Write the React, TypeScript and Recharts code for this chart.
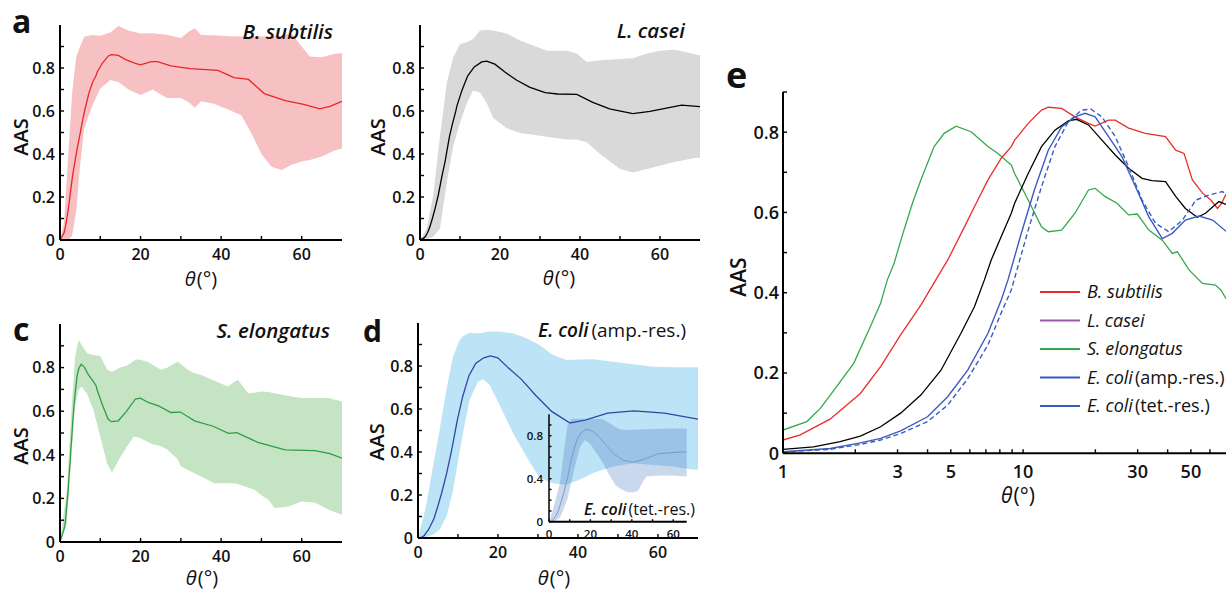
import React from 'react';
import { ComposedChart, Line, Area, XAxis, YAxis } from 'recharts';

const FONT = "'Open Sans', 'Noto Sans', 'DejaVu Sans', sans-serif";

// ---------------- data (theta in degrees, AAS values) ----------------
// B. subtilis
const bsTheta = [0, 1, 1.18, 1.57, 2.1, 2.55, 3.09, 3.75, 4.33, 4.85, 5.61, 6.27, 7.14, 8.11, 8.93, 9.22, 10.5, 11.93, 12.73, 14.47, 16.45, 18.72, 19.96, 22.7, 24.2, 27.5, 32.3, 39.2, 43.2, 46.8, 50.7, 55.9, 60.5, 64.5, 67, 70];
const bsMean = [0, 0.033, 0.046, 0.085, 0.149, 0.216, 0.295, 0.369, 0.432, 0.481, 0.556, 0.614, 0.681, 0.735, 0.764, 0.78, 0.822, 0.855, 0.862, 0.859, 0.838, 0.822, 0.815, 0.83, 0.83, 0.81, 0.797, 0.789, 0.755, 0.747, 0.681, 0.648, 0.631, 0.61, 0.622, 0.645];
const bsBandTheta = [0, 1, 2, 3, 4, 5, 6, 8, 10, 12.5, 14.5, 17, 20, 23, 26.5, 30, 32, 33.5, 35, 38, 42, 45, 47.5, 50, 52.5, 55, 57.5, 60, 62, 65, 68, 70];
const bsHigh = [0, 0.08, 0.38, 0.68, 0.85, 0.9, 0.945, 0.953, 0.95, 0.965, 0.995, 0.975, 0.96, 0.962, 0.955, 0.94, 0.97, 0.985, 0.953, 0.952, 0.948, 0.946, 0.946, 0.946, 0.946, 0.95, 0.96, 0.9, 0.853, 0.85, 0.865, 0.87];
const bsLow = [0, 0, 0, 0.02, 0.13, 0.35, 0.52, 0.625, 0.705, 0.744, 0.735, 0.7, 0.674, 0.7, 0.66, 0.66, 0.64, 0.615, 0.645, 0.635, 0.605, 0.58, 0.496, 0.4, 0.341, 0.326, 0.35, 0.365, 0.372, 0.388, 0.415, 0.426];

// L. casei
const lcTheta = [0, 1, 1.34, 1.73, 2.1, 2.55, 3.09, 3.75, 4.55, 5.51, 6.27, 6.9, 7.36, 8.11, 8.93, 9.22, 10.5, 11.93, 13.57, 15.43, 16.7, 18.72, 21.3, 24.2, 27.5, 31.3, 34.4, 39.2, 43.2, 47.4, 53.2, 57.5, 65.4, 70];
const lcMean = [0, 0.01, 0.016, 0.029, 0.043, 0.066, 0.1, 0.145, 0.207, 0.299, 0.365, 0.432, 0.481, 0.54, 0.598, 0.623, 0.697, 0.764, 0.805, 0.828, 0.832, 0.818, 0.78, 0.743, 0.71, 0.685, 0.679, 0.677, 0.64, 0.61, 0.588, 0.598, 0.627, 0.62];
const lcBandTheta = [0, 1.7, 3.3, 5, 6.7, 8.3, 10, 11.7, 13.3, 15, 16.7, 18.3, 21.7, 25, 28.3, 31.7, 36.7, 39.2, 41.7, 45, 50, 53.3, 56.7, 60, 63.3, 65, 68.3, 70];
const lcHigh = [0, 0.054, 0.207, 0.483, 0.73, 0.85, 0.91, 0.92, 0.935, 0.974, 0.978, 0.974, 0.96, 0.928, 0.905, 0.88, 0.88, 0.867, 0.828, 0.836, 0.842, 0.845, 0.867, 0.88, 0.885, 0.88, 0.865, 0.859];
const lcLow = [0, 0.005, 0.015, 0.054, 0.27, 0.437, 0.545, 0.636, 0.695, 0.686, 0.636, 0.567, 0.52, 0.498, 0.49, 0.48, 0.468, 0.468, 0.455, 0.4, 0.33, 0.314, 0.33, 0.345, 0.362, 0.368, 0.38, 0.383];

// S. elongatus
const seTheta = [0, 1, 1.257, 1.43, 1.574, 1.97, 2.31, 2.55, 2.72, 2.9, 3.19, 3.46, 3.75, 4.26, 4.69, 5.26, 6.07, 7.14, 7.86, 8.93, 9.22, 10.5, 11.93, 12.73, 14.47, 16.45, 18.72, 19.96, 21.9, 24.6, 27.5, 29.9, 33.4, 38, 41.8, 43.9, 49.1, 55.9, 63.3, 67, 70];
const seMean = [0, 0.058, 0.079, 0.112, 0.145, 0.224, 0.315, 0.374, 0.432, 0.473, 0.556, 0.623, 0.681, 0.764, 0.797, 0.815, 0.801, 0.764, 0.747, 0.718, 0.697, 0.631, 0.564, 0.552, 0.556, 0.598, 0.656, 0.66, 0.64, 0.623, 0.594, 0.596, 0.556, 0.531, 0.498, 0.502, 0.457, 0.423, 0.419, 0.405, 0.385];
const seBandTheta = [0, 1.7, 2.9, 3.75, 4.6, 5.4, 6.7, 8.3, 10, 11.7, 12.9, 15, 16.7, 18.3, 19.2, 20, 21.7, 23.3, 25, 26.7, 29.2, 30, 31.7, 33.3, 35, 38.3, 41.7, 43.3, 44.2, 46.7, 48.3, 50, 51.7, 53.3, 56.7, 60, 63.3, 65, 66.7, 70];
const seHigh = [0, 0.24, 0.62, 0.85, 0.927, 0.904, 0.866, 0.858, 0.853, 0.79, 0.78, 0.8, 0.81, 0.83, 0.838, 0.835, 0.827, 0.81, 0.79, 0.8, 0.827, 0.815, 0.79, 0.775, 0.766, 0.74, 0.713, 0.735, 0.743, 0.682, 0.685, 0.69, 0.688, 0.682, 0.67, 0.66, 0.66, 0.66, 0.66, 0.644];
const seLow = [0, 0.087, 0.42, 0.62, 0.7, 0.713, 0.68, 0.606, 0.484, 0.36, 0.319, 0.39, 0.44, 0.484, 0.48, 0.476, 0.46, 0.446, 0.44, 0.423, 0.38, 0.347, 0.33, 0.316, 0.3, 0.27, 0.27, 0.27, 0.265, 0.25, 0.24, 0.215, 0.194, 0.156, 0.163, 0.186, 0.18, 0.165, 0.148, 0.125];

// E. coli (amp.-res.)
const ecaTheta = [0, 1, 1.574, 2.1, 2.55, 3.09, 4, 4.85, 5.88, 7.14, 8.11, 8.65, 9.83, 11.14, 12.73, 14.47, 16.45, 18.1, 19.96, 22.7, 25.8, 29.4, 33.4, 38, 41.8, 47.4, 54, 61.6, 70];
const ecaMean = [0, 0.004, 0.012, 0.026, 0.037, 0.056, 0.091, 0.141, 0.207, 0.299, 0.382, 0.432, 0.548, 0.656, 0.755, 0.813, 0.838, 0.847, 0.838, 0.789, 0.739, 0.664, 0.589, 0.535, 0.548, 0.581, 0.591, 0.581, 0.553];
const ecaBandTheta = [0, 2, 3.75, 5.4, 7.1, 8.75, 10.4, 11.25, 12.9, 15, 16.25, 17.9, 20.4, 23.75, 27.1, 30.4, 33.75, 37.1, 40.4, 43.75, 48.75, 53.75, 58.75, 63.75, 68, 70];
const ecaHigh = [0, 0.147, 0.333, 0.503, 0.689, 0.844, 0.92, 0.94, 0.955, 0.952, 0.955, 0.96, 0.96, 0.952, 0.929, 0.898, 0.851, 0.828, 0.83, 0.831, 0.82, 0.808, 0.797, 0.794, 0.794, 0.794];
const ecaLow = [0, 0.005, 0.015, 0.04, 0.1, 0.22, 0.4, 0.488, 0.642, 0.728, 0.738, 0.712, 0.619, 0.488, 0.379, 0.279, 0.255, 0.248, 0.271, 0.302, 0.333, 0.348, 0.34, 0.333, 0.32, 0.317];

// E. coli (tet.-res.)
const ectTheta = [0, 1, 1.574, 2.1, 2.55, 3.09, 4, 4.85, 5.88, 7.14, 8.11, 8.93, 10.5, 11.93, 13.57, 15.43, 17.5, 19.2, 21.3, 24.2, 27.5, 31.3, 35.6, 40.4, 46.1, 52.5, 59.3, 67.6, 70];
const ectMean = [0, 0.003, 0.01, 0.022, 0.033, 0.049, 0.079, 0.12, 0.186, 0.27, 0.35, 0.407, 0.556, 0.664, 0.764, 0.826, 0.855, 0.857, 0.838, 0.789, 0.714, 0.631, 0.573, 0.552, 0.581, 0.631, 0.643, 0.652, 0.646];
const ectBandTheta = [0, 2.5, 5.3, 7.5, 9, 10.7, 13, 15, 17.4, 20, 25.7, 29, 32.1, 35, 38.3, 41, 43.2, 45, 47, 50, 55, 60, 66.7];
const ectHigh = [0, 0.15, 0.36, 0.7, 0.9, 0.955, 0.957, 0.957, 0.957, 0.957, 0.955, 0.92, 0.88, 0.855, 0.853, 0.855, 0.858, 0.86, 0.86, 0.862, 0.865, 0.866, 0.866];
const ectLow = [0, 0, 0.04, 0.14, 0.22, 0.36, 0.55, 0.7, 0.76, 0.72, 0.56, 0.44, 0.34, 0.3, 0.273, 0.275, 0.29, 0.36, 0.42, 0.425, 0.43, 0.43, 0.42];

// ticks
const linXTicks = [0, 10, 20, 30, 40, 50, 60];
const linXLabels = [0, 20, 40, 60];
const linYTicks = [0, 0.1, 0.2, 0.3, 0.4, 0.5, 0.6, 0.7, 0.8, 0.9];
const linYLabels = [0, 0.2, 0.4, 0.6, 0.8];
const insetYLabels = [0, 0.4, 0.8];
const logXTicks = [1, 2, 3, 4, 5, 6, 7, 8, 9, 10, 20, 30, 40, 50, 60];
const logXLabels = [1, 3, 5, 10, 30, 50];
const logYTicks = [0, 0.1, 0.2, 0.3, 0.4, 0.5, 0.6, 0.7, 0.8, 0.9];

// legend
const legendNames = [
  ['B. subtilis', ''],
  ['L. casei', ''],
  ['S. elongatus', ''],
  ['E. coli', '(amp.-res.)'],
  ['E. coli', '(tet.-res.)'],
];
const legendColors = ['#ee2b2b', '#9b59b0', '#35a84a', '#3a5cbf', '#3a5cbf'];

// ---------------- helpers ----------------
const toLine = (t: number[], v: number[]) => t.map((x, i) => ({ theta: x, v: v[i] }));
const toBand = (t: number[], lo: number[], hi: number[]) =>
  t.map((x, i) => ({ theta: x, range: [lo[i], hi[i]] }));
const has = (arr: number[], v: number) => arr.some((a) => Math.abs(a - v) < 1e-6);
const fmt = (v: number) => String(Math.round(v * 10) / 10);

function yTick(labels: number[], fs: number, len: number, gap: number) {
  return (p: any) => {
    const v = p.payload.value;
    return (
      <g>
        <line x1={p.x} x2={p.x + len} y1={p.y} y2={p.y} stroke="#000" strokeWidth={1.4} />
        {has(labels, v) && (
          <text x={p.x - gap} y={p.y} dy="0.36em" textAnchor="end" fontSize={fs} fontFamily={FONT} fontWeight={600} fill="#111">
            {fmt(v)}
          </text>
        )}
      </g>
    );
  };
}

function xTick(labels: number[], fs: number, len: number, base: number) {
  return (p: any) => {
    const v = p.payload.value;
    return (
      <g>
        <line x1={p.x} x2={p.x} y1={p.y} y2={p.y - len} stroke="#000" strokeWidth={1.4} />
        {has(labels, v) && (
          <text x={p.x} y={p.y + base} textAnchor="middle" fontSize={fs} fontFamily={FONT} fontWeight={600} fill="#111">
            {v}
          </text>
        )}
      </g>
    );
  };
}

const axisLine = { stroke: '#000', strokeWidth: 2 };

type PanelProps = {
  left: number;
  top: number;
  width: number;
  height: number;
  margin: { top: number; right: number; bottom: number; left: number };
  yWidth: number;
  xHeight: number;
  band: any[];
  line: any[];
  bandColor: string;
  lineColor: string;
};

function LinearPanel(p: PanelProps) {
  return (
    <div style={{ position: 'absolute', left: p.left, top: p.top }}>
      <ComposedChart width={p.width} height={p.height} margin={p.margin}>
        <XAxis
          type="number"
          dataKey="theta"
          domain={[0, 70]}
          allowDataOverflow
          ticks={linXTicks}
          interval={0}
          tickSize={0}
          tickMargin={0}
          tickLine={false}
          axisLine={axisLine}
          height={p.xHeight}
          tick={xTick(linXLabels, 16, 4, 20)}
        />
        <YAxis
          type="number"
          domain={[0, 1]}
          allowDataOverflow
          ticks={linYTicks}
          interval={0}
          tickSize={0}
          tickMargin={0}
          tickLine={false}
          axisLine={axisLine}
          width={p.yWidth}
          tick={yTick(linYLabels, 16, 4, 5)}
        />
        <Area data={p.band} dataKey="range" type="linear" stroke="none" fill={p.bandColor} fillOpacity={1} isAnimationActive={false} />
        <Line data={p.line} dataKey="v" type="linear" stroke={p.lineColor} strokeWidth={1.3} dot={false} isAnimationActive={false} />
      </ComposedChart>
    </div>
  );
}

function Inset() {
  return (
    <div style={{ position: 'absolute', left: 510, top: 400 }}>
      <ComposedChart width={190} height={140} margin={{ top: 14.2, right: 13.3, bottom: 0, left: 0 }}>
        <XAxis
          type="number"
          dataKey="theta"
          domain={[0, 66.5]}
          allowDataOverflow
          ticks={linXTicks}
          interval={0}
          tickSize={0}
          tickMargin={0}
          tickLine={false}
          axisLine={axisLine}
          height={18.3}
          tick={xTick(linXLabels, 11.5, 2.5, 16)}
        />
        <YAxis
          type="number"
          domain={[0, 1]}
          allowDataOverflow
          ticks={linYTicks}
          interval={0}
          tickSize={0}
          tickMargin={0}
          tickLine={false}
          axisLine={{ stroke: '#000', strokeWidth: 1.5 }}
          width={39}
          tick={yTick(insetYLabels, 11.5, 2.5, 6)}
        />
        <Area
          data={toBand(ectBandTheta, ectLow, ectHigh)}
          dataKey="range"
          type="linear"
          stroke="none"
          fill="rgb(60,110,190)"
          fillOpacity={0.27}
          isAnimationActive={false}
        />
        <Line data={toLine(ectTheta, ectMean)} dataKey="v" type="linear" stroke="#7c97cf" strokeWidth={1} dot={false} isAnimationActive={false} />
      </ComposedChart>
    </div>
  );
}

function LogPanel() {
  const f = (t: number[], v: number[]) => toLine(t, v).filter((d) => d.theta >= 1);
  return (
    <div style={{ position: 'absolute', left: 720, top: 40 }}>
      <ComposedChart width={507} height={551} margin={{ top: 52, right: 1, bottom: 0, left: 0 }}>
        <XAxis
          type="number"
          dataKey="theta"
          scale="log"
          domain={[1, 70]}
          allowDataOverflow
          ticks={logXTicks}
          interval={0}
          tickSize={0}
          tickMargin={0}
          tickLine={false}
          axisLine={axisLine}
          height={137.7}
          tick={xTick(logXLabels, 18, 4, 25)}
        />
        <YAxis
          type="number"
          domain={[0, 0.9]}
          allowDataOverflow
          ticks={logYTicks}
          interval={0}
          tickSize={0}
          tickMargin={0}
          tickLine={false}
          axisLine={axisLine}
          width={63}
          tick={yTick(linYLabels, 18, 4, 4)}
        />
        <Line data={f(seTheta, seMean)} dataKey="v" type="linear" stroke={legendColors[2]} strokeWidth={1.3} dot={false} isAnimationActive={false} />
        <Line data={f(bsTheta, bsMean)} dataKey="v" type="linear" stroke={legendColors[0]} strokeWidth={1.3} dot={false} isAnimationActive={false} />
        <Line data={f(lcTheta, lcMean)} dataKey="v" type="linear" stroke="#000" strokeWidth={1.3} dot={false} isAnimationActive={false} />
        <Line data={f(ecaTheta, ecaMean)} dataKey="v" type="linear" stroke={legendColors[3]} strokeWidth={1.4} dot={false} isAnimationActive={false} />
        <Line data={f(ectTheta, ectMean)} dataKey="v" type="linear" stroke={legendColors[4]} strokeWidth={1.4} strokeDasharray="5 3" dot={false} isAnimationActive={false} />
      </ComposedChart>
    </div>
  );
}

function Theta({ x, y, fs }: { x: number; y: number; fs: number }) {
  return (
    <text x={x} y={y} textAnchor="middle" fontSize={fs} fontFamily={FONT} fill="#111">
      <tspan fontStyle="italic">θ</tspan>
      <tspan dx={1}>(°)</tspan>
    </text>
  );
}

function AAS({ x, y, fs }: { x: number; y: number; fs: number }) {
  return (
    <text x={x} y={y} transform={`rotate(-90 ${x} ${y})`} textAnchor="middle" dy="0.35em" fontSize={fs} fontFamily={FONT} fontWeight={600} fill="#111">
      AAS
    </text>
  );
}

function Overlay() {
  const lbl = { fontFamily: FONT, fill: '#111' } as const;
  return (
    <svg width={1227} height={591} style={{ position: 'absolute', left: 0, top: 0, pointerEvents: 'none' }}>
      {/* panel letters */}
      <text x={12} y={33} fontSize={32} fontWeight={700} {...lbl}>a</text>
      <text x={13} y={341} fontSize={32} fontWeight={700} {...lbl}>c</text>
      <text x={363} y={342} fontSize={30} fontWeight={700} {...lbl}>d</text>
      <text x={726} y={88} fontSize={36} fontWeight={700} {...lbl}>e</text>

      {/* species labels */}
      <text x={333} y={39} textAnchor="end" fontSize={20.5} fontStyle="italic" fontWeight={600} {...lbl}>B. subtilis</text>
      <text x={685} y={38} textAnchor="end" fontSize={20.5} fontStyle="italic" fontWeight={600} {...lbl}>L. casei</text>
      <text x={330} y={338} textAnchor="end" fontSize={20.5} fontStyle="italic" fontWeight={600} {...lbl}>S. elongatus</text>
      <text x={686} y={337} textAnchor="end" fontSize={19} fontWeight={500} {...lbl}>
        <tspan fontStyle="italic" fontWeight={600}>E. coli</tspan>
        <tspan dx={3}>(amp.-res.)</tspan>
      </text>
      <text x={695} y={515} textAnchor="end" fontSize={16} fontWeight={500} {...lbl}>
        <tspan fontStyle="italic" fontWeight={600}>E. coli</tspan>
        <tspan dx={2}>(tet.-res.)</tspan>
      </text>

      {/* axis titles */}
      <AAS x={21} y={137} fs={20} />
      <AAS x={378} y={137} fs={20} />
      <AAS x={21} y={446} fs={20} />
      <AAS x={377} y={442} fs={20} />
      <AAS x={739} y={277} fs={21} />
      <Theta x={201} y={286} fs={20} />
      <Theta x={559} y={285} fs={20} />
      <Theta x={202} y={585} fs={20} />
      <Theta x={554} y={585} fs={20} />
      <Theta x={1018} y={503} fs={21} />

      {/* legend */}
      {legendNames.map((n, i) => {
        const y = 292 + i * 28.5;
        return (
          <g key={i}>
            <line x1={1040} x2={1080} y1={y} y2={y} stroke={legendColors[i]} strokeWidth={2} />
            <text x={1087} y={y} dy="0.35em" fontSize={18} fontWeight={500} {...lbl}>
              <tspan fontStyle="italic">{n[0]}</tspan>
              {n[1] && <tspan dx={2}>{n[1]}</tspan>}
            </text>
          </g>
        );
      })}
    </svg>
  );
}

export default function App() {
  return (
    <div style={{ position: 'absolute', left: 0, top: 0, width: 1227, height: 591, background: '#fff', overflow: 'hidden' }}>
      <LinearPanel
        left={0}
        top={0}
        width={360}
        height={290}
        margin={{ top: 25, right: 18, bottom: 0, left: 0 }}
        yWidth={60}
        xHeight={50}
        band={toBand(bsBandTheta, bsLow, bsHigh)}
        line={toLine(bsTheta, bsMean)}
        bandColor="#f7c1c3"
        lineColor="#e8262a"
      />
      <LinearPanel
        left={360}
        top={0}
        width={360}
        height={290}
        margin={{ top: 25, right: 20, bottom: 0, left: 0 }}
        yWidth={60}
        xHeight={50}
        band={toBand(lcBandTheta, lcLow, lcHigh)}
        line={toLine(lcTheta, lcMean)}
        bandColor="#d9d9d9"
        lineColor="#000"
      />
      <LinearPanel
        left={0}
        top={290}
        width={360}
        height={301}
        margin={{ top: 34, right: 18, bottom: 0, left: 0 }}
        yWidth={60}
        xHeight={49}
        band={toBand(seBandTheta, seLow, seHigh)}
        line={toLine(seTheta, seMean)}
        bandColor="#c4e4c3"
        lineColor="#2e9e46"
      />
      <LinearPanel
        left={360}
        top={290}
        width={360}
        height={301}
        margin={{ top: 33, right: 22, bottom: 0, left: 0 }}
        yWidth={58}
        xHeight={53}
        band={toBand(ecaBandTheta, ecaLow, ecaHigh)}
        line={toLine(ecaTheta, ecaMean)}
        bandColor="#bde3f6"
        lineColor="#2d48a0"
      />
      <Inset />
      <LogPanel />
      <Overlay />
    </div>
  );
}
